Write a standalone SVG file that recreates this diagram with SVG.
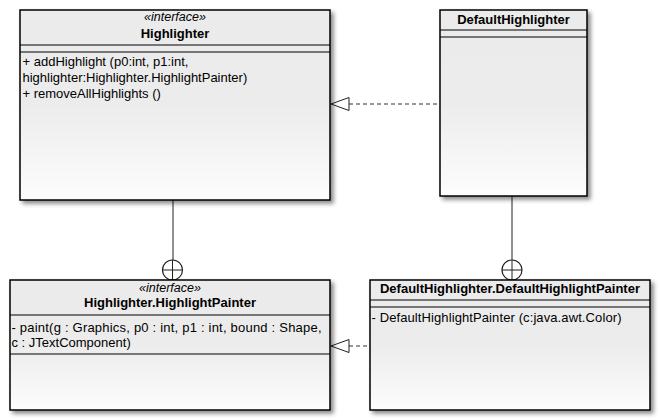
<svg xmlns="http://www.w3.org/2000/svg" width="660" height="420" viewBox="0 0 660 420">
<defs>
<linearGradient id="g" x1="0" y1="0" x2="0" y2="1">
<stop offset="0" stop-color="#ebebeb"/>
<stop offset="0.5" stop-color="#ececec"/>
<stop offset="1" stop-color="#fdfdfd"/>
</linearGradient>
<filter id="sh" x="-10%" y="-10%" width="130%" height="130%">
<feDropShadow dx="3" dy="3" stdDeviation="2" flood-color="#000" flood-opacity="0.45"/>
</filter>
<style>
.box{fill:url(#g);stroke:#000;stroke-width:1.5;filter:url(#sh)}
.div{stroke:#000;stroke-width:1.2;fill:none}
.t{font-family:"Liberation Sans",Arial,sans-serif;font-size:13px;fill:#000}
.b{font-weight:bold;text-anchor:middle}
.st{font-family:"Liberation Sans",Arial,sans-serif;font-size:12.5px;font-style:italic;text-anchor:middle;fill:#000}
.ln{stroke:#222;stroke-width:1;fill:none}
.dash{stroke:#333;stroke-width:1;fill:none;stroke-dasharray:4,3}
.tri{fill:#fff;stroke:#222;stroke-width:1}
.nest{fill:#fff;stroke:#222;stroke-width:1.2}
</style>
</defs>
<g id="connectors">
<line class="dash" x1="349" y1="104" x2="440" y2="104"/>
<polygon class="tri" points="331,104 349,97.5 349,110.5"/>
<line class="dash" x1="349" y1="346" x2="370" y2="346"/>
<polygon class="tri" points="331,346 349,339.5 349,352.5"/>
<line class="ln" x1="173" y1="200" x2="173" y2="260"/>
<circle class="nest" cx="172.5" cy="270" r="10"/>
<line class="ln" x1="162.5" y1="270" x2="182.5" y2="270"/>
<line class="ln" x1="172.5" y1="260" x2="172.5" y2="280"/>
<line class="ln" x1="512" y1="196" x2="512" y2="260"/>
<circle class="nest" cx="512" cy="270" r="10"/>
<line class="ln" x1="502" y1="270" x2="522" y2="270"/>
<line class="ln" x1="512" y1="260" x2="512" y2="280"/>
</g>
<g id="Highlighter">
<rect class="box" x="20" y="10" width="310" height="190"/>
<line class="div" x1="20" y1="45" x2="330" y2="45"/>
<line class="div" x1="20" y1="52" x2="330" y2="52"/>
<text class="st" x="175" y="21">«interface»</text>
<text class="t b" x="175" y="37.5">Highlighter</text>
<text class="t" x="22.5" y="66">+ addHighlight (p0:int, p1:int,</text>
<text class="t" x="22.5" y="82">highlighter:Highlighter.HighlightPainter)</text>
<text class="t" x="22.5" y="98">+ removeAllHighlights ()</text>
</g>
<g id="DefaultHighlighter">
<rect class="box" x="440" y="10" width="147" height="186"/>
<line class="div" x1="440" y1="30" x2="587" y2="30"/>
<line class="div" x1="440" y1="37" x2="587" y2="37"/>
<text class="t b" x="513.5" y="23.5">DefaultHighlighter</text>
</g>
<g id="HighlightPainter">
<rect class="box" x="10" y="280" width="320" height="130"/>
<line class="div" x1="10" y1="315" x2="330" y2="315"/>
<line class="div" x1="10" y1="354" x2="330" y2="354"/>
<text class="st" x="170" y="292">«interface»</text>
<text class="t b" x="170" y="306.5">Highlighter.HighlightPainter</text>
<text class="t" x="11.5" y="332" textLength="310" lengthAdjust="spacing">- paint(g : Graphics, p0 : int, p1 : int, bound : Shape,</text>
<text class="t" x="11.5" y="347">c : JTextComponent)</text>
</g>
<g id="DefaultHighlightPainter">
<rect class="box" x="370" y="280" width="280" height="130"/>
<line class="div" x1="370" y1="300" x2="650" y2="300"/>
<line class="div" x1="370" y1="307" x2="650" y2="307"/>
<text class="t b" x="510" y="293">DefaultHighlighter.DefaultHighlightPainter</text>
<text class="t" x="371.5" y="322" textLength="250" lengthAdjust="spacing">- DefaultHighlightPainter (c:java.awt.Color)</text>
</g>
</svg>
